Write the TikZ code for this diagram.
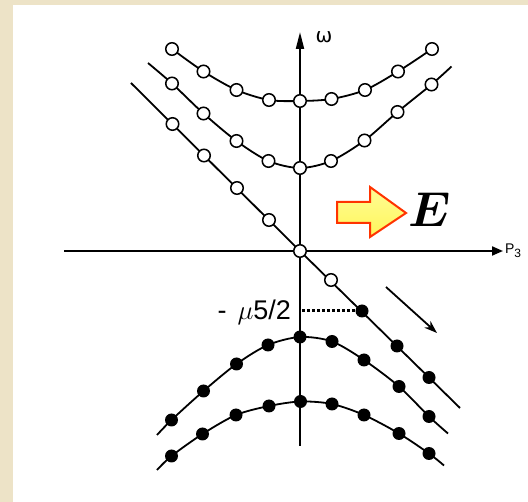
\RequirePackage{fix-cm}
\documentclass[tikz,border=0pt]{standalone}
\usepackage{fontspec}
\setsansfont{Liberation Sans}
\newfontfamily\dejavu{DejaVu Sans}
\usepackage{bm}
\usetikzlibrary{arrows.meta}
\definecolor{beige}{RGB}{237,227,199}
\definecolor{arrowtop}{RGB}{255,252,150}
\definecolor{arrowbot}{RGB}{255,246,90}
\definecolor{arrowline}{RGB}{255,51,0}
\begin{document}
\begin{tikzpicture}[x=1pt,y=-1pt,
  curve/.style={line width=1.8pt, line join=round},
  axisline/.style={line width=2pt},
  odot/.style={circle, draw=black, fill=white, line width=1.5pt, minimum size=12.5pt, inner sep=0pt},
  fdot/.style={circle, fill=black, minimum size=13pt, inner sep=0pt},
  lbl/.style={inner sep=0pt, outer sep=0pt}]
\fill[beige] (0,0) rectangle (528,502);
\fill[white] (13,5) rectangle (528,502);
\useasboundingbox (0,0) rectangle (528,502);

% coordinates
\foreach \n/\x/\y in {1/172/49,2/203.5/71.5,3/236.5/90,4/269/100,5/300/101,6/331.5/99,7/365/90,8/398/71.5,9/432/49}
  \coordinate (ua\n) at (\x,\y);
\foreach \n/\x/\y in {0/148/63,1/172/83.5,2/203.5/113.5,3/236.5/141,4/268.5/161,5/300/168,6/331/161,7/364.5/140.5,8/397.5/112,9/431.5/84.5,10/451.5/66.5}
  \coordinate (ub\n) at (\x,\y);
\foreach \n/\x/\y in {0/131/83,1/172.5/124,2/204/155.5,3/237/188,4/269/220,5/300/251,6/331/280,7/362/311,8/397/346,9/429/377.5,10/460/408}
  \coordinate (dg\n) at (\x,\y);
\foreach \n/\x/\y in {0/157/435,1/171.5/420,2/203.5/391,3/236.5/364,4/268/345,5/300/337,6/332/341.5,7/364/360,8/399/386.5,9/429/416.5,10/448/433.5}
  \coordinate (la\n) at (\x,\y);
\foreach \n/\x/\y in {0/157/470,1/171.5/456,2/202.5/434,3/236/415,4/269/406,5/300.5/401.5,6/332/404,7/364/415,8/399/433.5,9/429/453.5,10/444/465.5}
  \coordinate (lb\n) at (\x,\y);

\coordinate (yb) at (300,446);
\coordinate (yt) at (300,32);
\coordinate (xl) at (64,251);
\coordinate (xr) at (503,251);

% axes
\draw[axisline,-{Triangle[length=17pt,width=8pt]}] (yb) -- (yt);
\draw[axisline,-{Triangle[length=11pt,width=9pt]}] (xl) -- (xr);

% curves
\draw[curve] plot[smooth,tension=0.5] coordinates {(ua1) (ua2) (ua3) (ua4) (ua5) (ua6) (ua7) (ua8) (ua9)};
\draw[curve] plot[smooth,tension=0.5] coordinates {(ub0) (ub1) (ub2) (ub3) (ub4) (ub5) (ub6) (ub7) (ub8) (ub9) (ub10)};
\draw[curve] plot[smooth,tension=0.5] coordinates {(la0) (la1) (la2) (la3) (la4) (la5) (la6) (la7) (la8) (la9) (la10)};
\draw[curve] plot[smooth,tension=0.5] coordinates {(lb0) (lb1) (lb2) (lb3) (lb4) (lb5) (lb6) (lb7) (lb8) (lb9) (lb10)};
\draw[curve] (dg0) -- (dg5) -- (dg10);

% dots
\foreach \n in {1,...,9} \node[odot] (uad\n) at (ua\n) {};
\foreach \n in {1,...,9} \node[odot] (ubd\n) at (ub\n) {};
\foreach \n in {1,...,6} \node[odot] (dgd\n) at (dg\n) {};
\foreach \n in {7,8,9} \node[fdot] (dgd\n) at (dg\n) {};
\foreach \n in {1,...,9} \node[fdot] (lad\n) at (la\n) {};
\foreach \n in {1,...,9} \node[fdot] (lbd\n) at (lb\n) {};

% dotted level line
\coordinate (mu) at (302,311);
\draw[line width=3pt, dash pattern=on 3pt off 2pt] (mu) -- (dgd7.west);

% drift arrow
\coordinate (as) at (386,287);
\coordinate (ae) at (437,333);
\draw[line width=1.8pt,-{Stealth[length=13pt,width=9pt]}] (as) -- (ae);

% field arrow
\draw[top color=arrowtop, bottom color=arrowbot, draw=arrowline, line width=2pt, line join=miter]
  (337,202) -- (370,202) -- (370,187) -- (406,213) -- (370,237) -- (370,223) -- (337,223) -- cycle;

% labels
\node[lbl, anchor=base west] (elabel) at (408,227) {\fontsize{49}{50}\selectfont$\bm{E}$};
\node[lbl] (omega) at (324,37) {\dejavu\fontsize{20}{20}\selectfont ω};
\node[lbl, anchor=west] (plabel) at (505,251) {\sffamily\fontsize{14}{14}\selectfont P\raisebox{-4pt}{\fontsize{12}{12}\selectfont 3}};
\node[lbl, anchor=base east] (mulabel) at (291,320) {\sffamily\fontsize{27}{27}\selectfont -\hspace{11pt}$\mu$5/2};
\end{tikzpicture}
\end{document}
